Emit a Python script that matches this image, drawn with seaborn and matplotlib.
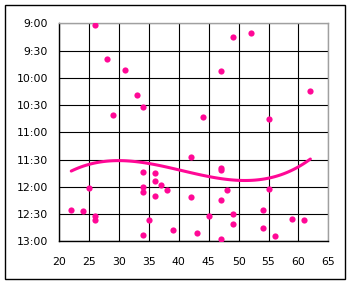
import matplotlib
matplotlib.use("Agg")
import matplotlib.pyplot as plt
from matplotlib.patches import Rectangle
import seaborn as sns
import pandas as pd

# ---- data ----
x_values = [26, 28, 31, 33, 34, 29, 49, 52, 47, 62, 44, 55,
            34, 36, 36, 37, 38, 34, 34, 36, 25, 22, 24, 26, 26,
            35, 34, 39, 42, 47, 47, 48, 42, 47, 49, 45, 49, 54,
            54, 55, 56, 59, 61, 47, 43]
times = ["9:02", "9:39", "9:51", "10:19", "10:32", "10:41", "9:15", "9:11",
         "9:52", "10:14", "10:43", "10:45",
         "11:44", "11:45", "11:54", "11:58", "12:04", "12:00", "12:06", "12:10",
         "12:01", "12:25", "12:27", "12:32", "12:36",
         "12:37", "12:53", "12:48", "11:27", "11:39", "11:42", "12:04", "12:11",
         "12:15", "12:30", "12:32", "12:41", "12:26",
         "12:45", "12:02", "12:54", "12:35", "12:36", "12:58", "12:51"]
x_ticks = [20, 25, 30, 35, 40, 45, 50, 55, 60, 65]
y_tick_labels = ["9:00", "9:30", "10:00", "10:30", "11:00", "11:30",
                 "12:00", "12:30", "13:00"]


def to_minutes(t):
    h, m = t.split(":")
    return int(h) * 60 + int(m)


df = pd.DataFrame({"x": x_values, "minutes": [to_minutes(t) for t in times]})
y_ticks = [to_minutes(t) for t in y_tick_labels]

PINK = "#ff0896"

sns.set_style("white")
plt.rcParams["font.family"] = ["DejaVu Sans"]

fig = plt.figure(figsize=(3.51, 2.84), dpi=100)
ax = fig.add_axes([59.3 / 351, 1 - 241.3 / 284, 269 / 351, 218 / 284])

sns.regplot(data=df, x="x", y="minutes", order=3, ci=None, ax=ax,
            scatter_kws=dict(s=20, color=PINK, linewidths=0, alpha=1, zorder=3),
            line_kws=dict(color=PINK, lw=2.2, zorder=4))

ax.set_xlim(20, 65)
ax.set_ylim(to_minutes("13:00"), to_minutes("9:00"))
ax.set_xticks(x_ticks)
ax.set_xticklabels([str(v) for v in x_ticks])
ax.set_yticks(y_ticks)
ax.set_yticklabels(y_tick_labels)
ax.set_xlabel("")
ax.set_ylabel("")

ax.set_axisbelow(True)
ax.grid(True, color="black", lw=0.8)
ax.tick_params(axis="both", direction="in", length=3, width=0.8, color="black",
               labelsize=7.8, labelcolor="black")
ax.tick_params(axis="x", pad=11)
ax.tick_params(axis="y", pad=8)

for side in ["left", "bottom"]:
    ax.spines[side].set_color("black")
    ax.spines[side].set_linewidth(1.0)
    ax.spines[side].set_visible(True)
for side in ["top", "right"]:
    ax.spines[side].set_color("#a0a0a0")
    ax.spines[side].set_linewidth(1.0)
    ax.spines[side].set_visible(True)

# outer frame
fig.patches.append(Rectangle((4.5 / 351, 1 - 278.5 / 284), 340.5 / 351, 274 / 284,
                             transform=fig.transFigure, fill=False,
                             edgecolor="black", lw=1.0))

fig.savefig("out.png", dpi=100)
